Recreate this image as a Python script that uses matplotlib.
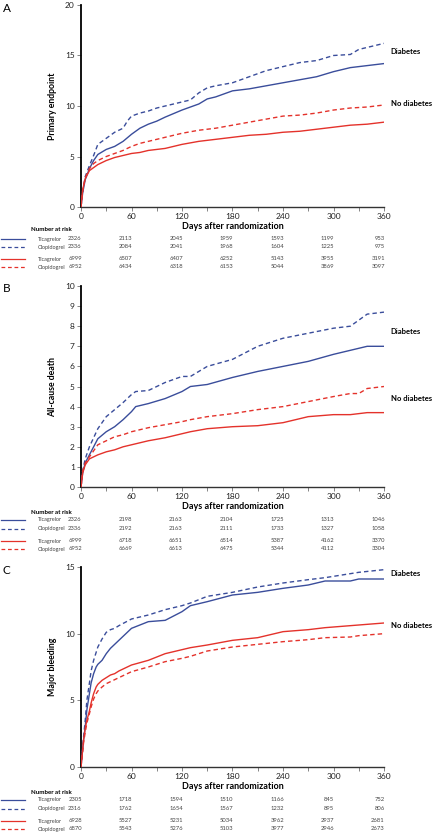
import matplotlib

matplotlib.use("Agg")
import matplotlib.pyplot as plt
from matplotlib.lines import Line2D
from matplotlib.transforms import blended_transform_factory

plt.rcParams["font.family"] = ["Lato", "DejaVu Sans"]

BLUE = "#3a4d9b"
RED = "#e4322b"
W, H = 435, 833

# ---- Panel A: primary endpoint (%) ----
a_days_dm_clo = [0, 2, 5, 10, 15, 20, 30, 40, 50, 55, 60, 70, 80, 90, 100, 120, 130, 140, 150, 160, 180, 200, 220, 240, 260, 280, 300, 320, 330, 360]
a_dm_clo = [0, 1.5, 3.0, 4.1, 5.1, 6.2, 6.8, 7.4, 7.8, 8.5, 9.0, 9.3, 9.5, 9.8, 10.0, 10.4, 10.6, 11.3, 11.8, 12.0, 12.3, 12.9, 13.5, 13.9, 14.3, 14.5, 15.0, 15.1, 15.6, 16.2]
a_days = [0, 2, 5, 10, 15, 20, 30, 40, 50, 60, 70, 80, 90, 100, 120, 140, 150, 160, 180, 200, 220, 240, 260, 280, 300, 320, 340, 360]
a_dm_tic = [0, 1.4, 2.7, 3.8, 4.6, 5.2, 5.7, 6.0, 6.5, 7.2, 7.8, 8.2, 8.5, 8.9, 9.6, 10.2, 10.7, 10.9, 11.5, 11.7, 12.0, 12.3, 12.6, 12.9, 13.4, 13.8, 14.0, 14.2]
a_nodm_clo = [0, 1.6, 2.9, 3.8, 4.3, 4.6, 5.0, 5.3, 5.6, 6.0, 6.3, 6.5, 6.7, 6.9, 7.3, 7.6, 7.7, 7.8, 8.1, 8.4, 8.7, 9.0, 9.1, 9.3, 9.6, 9.8, 9.9, 10.1]
a_nodm_tic = [0, 1.7, 2.8, 3.6, 3.9, 4.2, 4.6, 4.9, 5.1, 5.3, 5.4, 5.6, 5.7, 5.8, 6.2, 6.5, 6.6, 6.7, 6.9, 7.1, 7.2, 7.4, 7.5, 7.7, 7.9, 8.1, 8.2, 8.4]

# ---- Panel B: all-cause death (%) ----
b_days = [0, 2, 5, 10, 20, 30, 40, 50, 60, 65, 80, 100, 120, 130, 150, 180, 210, 240, 270, 300, 320, 330, 340, 360]
b_dm_clo = [0, 0.8, 1.4, 2.0, 2.9, 3.5, 3.85, 4.2, 4.6, 4.75, 4.8, 5.2, 5.5, 5.5, 6.0, 6.35, 7.0, 7.4, 7.65, 7.9, 8.0, 8.3, 8.6, 8.7]
b_dm_tic = [0, 0.7, 1.2, 1.6, 2.4, 2.75, 3.0, 3.35, 3.75, 4.0, 4.15, 4.4, 4.75, 5.0, 5.1, 5.45, 5.75, 6.0, 6.25, 6.6, 6.8, 6.9, 7.0, 7.0]
b_nodm_clo = [0, 0.8, 1.2, 1.5, 2.1, 2.3, 2.5, 2.6, 2.75, 2.8, 2.95, 3.1, 3.25, 3.35, 3.5, 3.65, 3.85, 4.0, 4.25, 4.5, 4.65, 4.65, 4.9, 5.0]
b_nodm_tic = [0, 0.7, 1.1, 1.4, 1.6, 1.75, 1.85, 2.0, 2.1, 2.15, 2.3, 2.45, 2.65, 2.75, 2.9, 3.0, 3.05, 3.2, 3.5, 3.6, 3.6, 3.65, 3.7, 3.7]

# ---- Panel C: major bleeding (%) ----
c_days = [0, 3, 5, 7, 10, 12, 15, 18, 20, 25, 30, 35, 40, 45, 60, 80, 100, 120, 130, 150, 180, 210, 240, 270, 290, 320, 330, 360]
c_dm_clo = [0, 2.2, 3.5, 5.0, 6.3, 7.2, 8.0, 8.6, 9.0, 9.6, 10.1, 10.3, 10.4, 10.6, 11.1, 11.4, 11.8, 12.1, 12.3, 12.8, 13.1, 13.5, 13.8, 14.05, 14.2, 14.5, 14.6, 14.8]
c_dm_tic = [0, 2.0, 3.0, 4.3, 5.5, 6.3, 7.0, 7.5, 7.7, 8.0, 8.5, 8.9, 9.2, 9.5, 10.4, 10.9, 11.0, 11.65, 12.1, 12.4, 12.9, 13.1, 13.4, 13.65, 13.95, 13.95, 14.1, 14.1]
c_nodm_tic = [0, 2.0, 2.9, 3.5, 4.2, 4.8, 5.5, 6.0, 6.2, 6.5, 6.7, 6.9, 7.0, 7.2, 7.65, 8.0, 8.5, 8.8, 8.95, 9.15, 9.5, 9.7, 10.15, 10.3, 10.45, 10.6, 10.65, 10.8]
c_nodm_clo = [0, 1.8, 2.6, 3.3, 4.0, 4.5, 5.1, 5.5, 5.7, 6.0, 6.25, 6.4, 6.55, 6.7, 7.15, 7.5, 7.9, 8.15, 8.3, 8.7, 9.0, 9.2, 9.4, 9.55, 9.7, 9.75, 9.85, 10.0]

risk_days = [0, 60, 120, 180, 240, 300, 360]
groups = ["Ticagrelor", "Clopidogrel", "Ticagrelor", "Clopidogrel"]

a_risk = [[2326, 2113, 2045, 1959, 1593, 1199, 953],
          [2336, 2084, 2041, 1968, 1604, 1225, 975],
          [6999, 6507, 6407, 6252, 5143, 3955, 3191],
          [6952, 6434, 6318, 6153, 5044, 3869, 3097]]
b_risk = [[2326, 2198, 2163, 2104, 1725, 1313, 1046],
          [2336, 2192, 2163, 2111, 1733, 1327, 1058],
          [6999, 6718, 6651, 6514, 5387, 4162, 3370],
          [6952, 6669, 6613, 6475, 5344, 4112, 3304]]
c_risk = [[2305, 1718, 1594, 1510, 1166, 845, 752],
          [2316, 1762, 1654, 1567, 1232, 895, 806],
          [6928, 5527, 5231, 5034, 3962, 2937, 2681],
          [6870, 5543, 5276, 5103, 3977, 2946, 2673]]

panels = [
    dict(letter="A", ylabel="Primary endpoint", ymax=20, yticks=[0, 5, 10, 15, 20],
         top=5, bottom=207,
         series=[(a_days_dm_clo, a_dm_clo, BLUE, "--"), (a_days, a_dm_tic, BLUE, "-"),
                 (a_days, a_nodm_clo, RED, "--"), (a_days, a_nodm_tic, RED, "-")],
         lab_y=(15.4, 10.2), risk=a_risk, table_y=[229, 239, 247, 259, 267]),
    dict(letter="B", ylabel="All-cause death", ymax=10, yticks=list(range(11)),
         top=286, bottom=487,
         series=[(b_days, b_dm_clo, BLUE, "--"), (b_days, b_dm_tic, BLUE, "-"),
                 (b_days, b_nodm_clo, RED, "--"), (b_days, b_nodm_tic, RED, "-")],
         lab_y=(7.75, 4.4), risk=b_risk, table_y=[512, 519.5, 528.5, 541, 549]),
    dict(letter="C", ylabel="Major bleeding", ymax=15, yticks=[0, 5, 10, 15],
         top=567, bottom=767,
         series=[(c_days, c_dm_clo, BLUE, "--"), (c_days, c_dm_tic, BLUE, "-"),
                 (c_days, c_nodm_clo, RED, "--"), (c_days, c_nodm_tic, RED, "-")],
         lab_y=(14.55, 10.65), risk=c_risk, table_y=[792, 799.5, 808.5, 821, 829]),
]

fig = plt.figure(figsize=(W / 100, H / 100), dpi=100)
left, right = 81, 384

for p in panels:
    ax = fig.add_axes([left / W, 1 - p["bottom"] / H, (right - left) / W,
                       (p["bottom"] - p["top"]) / H])
    for x, y, col, ls in p["series"]:
        ln, = ax.plot(x, y, color=col, linewidth=1.0, linestyle=ls, zorder=3)
        if ls == "--":
            ln.set_dashes((3.2, 2.2))
    ax.set_xlim(0, 360)
    ax.set_ylim(0, p["ymax"])
    ax.set_xticks(risk_days)
    ax.set_xticks(range(30, 360, 60), minor=True)
    ax.set_yticks(p["yticks"])
    ax.tick_params(axis="both", which="both", direction="out", length=3, width=0.5,
                   color="#555555", labelsize=6, pad=1.5, labelcolor="#222222")
    for s in ("top", "right"):
        ax.spines[s].set_visible(False)
    ax.spines["left"].set_linewidth(1.3)
    ax.spines["bottom"].set_linewidth(1.0)
    ax.spines["bottom"].set_color("#333333")
    ax.set_xlabel("Days after randomization", fontsize=6.5, fontweight="bold", labelpad=1)
    ax.set_ylabel(p["ylabel"], fontsize=6.3, fontweight="bold")
    ax.yaxis.set_label_coords(-(left - 57) / (right - left), 0.5)

    ax.text(368, p["lab_y"][0], "Diabetes", fontsize=5.5, fontweight="bold",
            va="center", ha="left", clip_on=False)
    ax.text(368, p["lab_y"][1], "No diabetes", fontsize=5.5, fontweight="bold",
            va="center", ha="left", clip_on=False)
    fig.text(3 / W, 1 - (p["top"] + 3) / H, p["letter"], fontsize=8.5, va="center", ha="left")

    # number-at-risk table
    ty = p["table_y"]
    fig.text(31 / W, 1 - ty[0] / H, "Number at risk", fontsize=4.4, fontweight="bold",
             va="center", ha="left")
    tr = blended_transform_factory(ax.transData, fig.transFigure)
    for i, (g, row) in enumerate(zip(groups, p["risk"])):
        yf = 1 - ty[i + 1] / H
        col = BLUE if i < 2 else RED
        ls = "-" if i % 2 == 0 else "--"
        ln = Line2D([1 / W, 25 / W], [yf, yf], transform=fig.transFigure, color=col,
                    linewidth=0.9, linestyle=ls)
        if ls == "--":
            ln.set_dashes((3, 2.2))
        fig.add_artist(ln)
        fig.text(38 / W, yf, g, fontsize=4.0, color="#444444", va="center", ha="left")
        for d, n in zip(risk_days, row):
            ax.text(d + 1, yf, str(n), transform=tr, fontsize=4.2, color="#444444",
                    va="center", ha="right", clip_on=False)

fig.savefig("out.png", dpi=100, facecolor="white")
